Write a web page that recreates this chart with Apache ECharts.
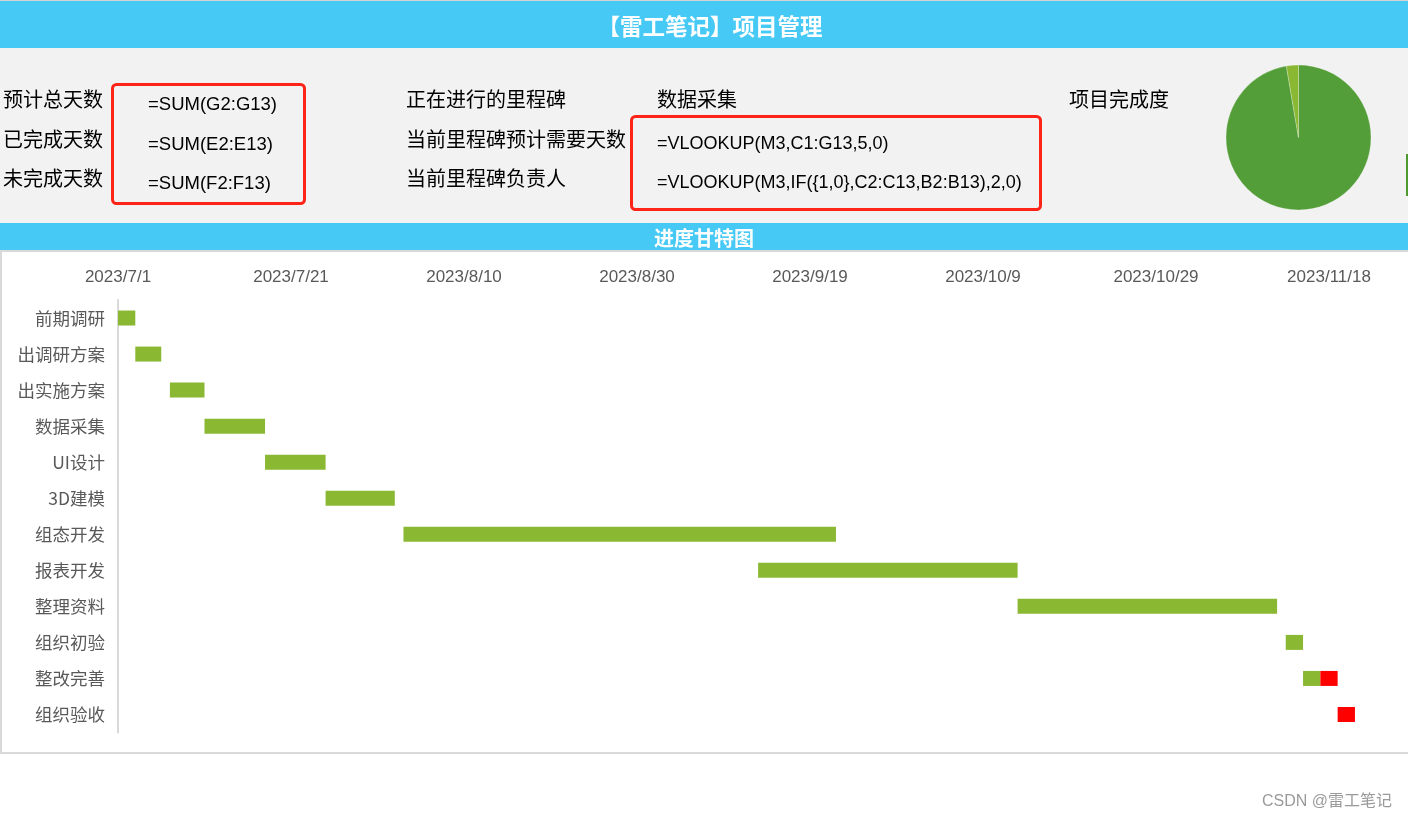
<!DOCTYPE html>
<html>
<head>
<meta charset="utf-8">
<script src="https://cdn.jsdelivr.net/npm/echarts@6/dist/echarts.min.js"></script>
<style>
html,body{margin:0;padding:0;background:#fff;}
#c{width:1408px;height:820px;}
</style>
</head>
<body>
<div id="c"></div>
<script>
// ---- data ----
const tasks = ['前期调研','出调研方案','出实施方案','数据采集','UI设计','3D建模','组态开发','报表开发','整理资料','组织初验','整改完善','组织验收'];
const startDates = ['2023/7/1','2023/7/3','2023/7/7','2023/7/11','2023/7/18','2023/7/25','2023/8/3','2023/9/13','2023/10/13','2023/11/13','2023/11/15','2023/11/19'];
const doneDays = [2,3,4,7,7,8,50,30,30,2,2,0];
const remainDays = [0,0,0,0,0,0,0,0,0,0,2,2];
const axisStart = '2023/7/1';
const axisEndDay = 147;
const tickStep = 20;
const tickLabels = ['2023/7/1','2023/7/21','2023/8/10','2023/8/30','2023/9/19','2023/10/9','2023/10/29','2023/11/18'];

const titleText = '【雷工笔记】项目管理';
const ganttTitle = '进度甘特图';
const summaryLabels = ['预计总天数','已完成天数','未完成天数'];
const summaryFormulas = ['=SUM(G2:G13)','=SUM(E2:E13)','=SUM(F2:F13)'];
const milestoneLabels = ['正在进行的里程碑','当前里程碑预计需要天数','当前里程碑负责人'];
const milestoneValues = ['数据采集','=VLOOKUP(M3,C1:G13,5,0)','=VLOOKUP(M3,IF({1,0},C2:C13,B2:B13),2,0)'];
const progressLabel = '项目完成度';
const watermark = 'CSDN @雷工笔记';

// ---- helpers ----
function parseD(s){const p=s.split('/').map(Number);return Date.UTC(p[0],p[1]-1,p[2]);}
const DAY = 86400000;
const base = parseD(axisStart);
const offsets = startDates.map(s => Math.round((parseD(s)-base)/DAY));
const doneSum = doneDays.reduce((a,b)=>a+b,0);
const remainSum = remainDays.reduce((a,b)=>a+b,0);

const CJK = '"Noto Sans CJK SC"';
const LAT = '"Liberation Sans"';

const graphics = [
  {type:'rect', z:-10, shape:{x:0,y:0,width:1408,height:1}, style:{fill:'#d4d4d4'}},
  {type:'rect', z:-10, shape:{x:0,y:1,width:1408,height:47}, style:{fill:'#46C9F5'}},
  {type:'rect', z:-10, shape:{x:0,y:48,width:1408,height:175}, style:{fill:'#F2F2F2'}},
  {type:'rect', z:-10, shape:{x:0,y:223,width:1408,height:27}, style:{fill:'#46C9F5'}},
  {type:'rect', z:-9, shape:{x:1,y:251,width:1430,height:502}, style:{fill:'#fff',stroke:'#d9d9d9',lineWidth:2}},
  {type:'rect', z:-8, shape:{x:1406,y:154,width:3,height:42}, style:{fill:'#4E9A2E'}},
  {type:'text', x:710, y:26, style:{text:titleText, font:'bold 22.5px '+CJK, fill:'#fff', align:'center', verticalAlign:'middle'}},
  {type:'text', x:704, y:238, style:{text:ganttTitle, font:'bold 20px '+CJK, fill:'#fff', align:'center', verticalAlign:'middle'}},
  {type:'rect', z:5, shape:{x:112.5,y:84.5,width:192,height:119,r:4}, style:{fill:'none',stroke:'#FF2418',lineWidth:3}},
  {type:'rect', z:5, shape:{x:631.5,y:116.5,width:409,height:93,r:4}, style:{fill:'none',stroke:'#FF2418',lineWidth:3}},
  {type:'text', x:1069, y:99, style:{text:progressLabel, font:'20px '+CJK, fill:'#000', align:'left', verticalAlign:'middle'}},
  {type:'text', x:1392, y:802, style:{text:watermark, font:'16px '+LAT+','+CJK, fill:'#9a9a9a', align:'right', verticalAlign:'middle'}}
];
const rowsY = [99,139,178];
const fRowsY = [105,145,184];
summaryLabels.forEach((t,i)=>graphics.push({type:'text', x:3, y:rowsY[i], style:{text:t, font:'20px '+CJK, fill:'#000', align:'left', verticalAlign:'middle'}}));
summaryFormulas.forEach((t,i)=>graphics.push({type:'text', x:148, y:fRowsY[i], style:{text:t, font:'18.5px '+LAT, fill:'#000', align:'left', verticalAlign:'middle'}}));
milestoneLabels.forEach((t,i)=>graphics.push({type:'text', x:406, y:rowsY[i], style:{text:t, font:'20px '+CJK, fill:'#000', align:'left', verticalAlign:'middle'}}));
milestoneValues.forEach((t,i)=>graphics.push({type:'text', x:657, y:i===0?99:fRowsY[i]-1, style:{text:t, font:(i===0?'20px '+CJK:'18px '+LAT), fill:'#000', align:'left', verticalAlign:'middle'}}));

const chart = echarts.init(document.getElementById('c'), null, {renderer:'canvas'});
chart.setOption({
  animation:false,
  backgroundColor:'transparent',
  graphic: graphics,
  grid:{left:118, top:300, right:1408-118-axisEndDay*8.65, height:432.5, containLabel:false},
  xAxis:{
    type:'value', position:'top', min:0, max:axisEndDay, interval:tickStep,
    axisLine:{show:false}, axisTick:{show:false}, splitLine:{show:false},
    axisLabel:{show:true, showMaxLabel:false, margin:14, color:'#595959', fontSize:17, fontFamily:'Liberation Sans',
      formatter:v=>{const k=Math.round(v/tickStep);return (v%tickStep===0 && tickLabels[k])?tickLabels[k]:'';}}
  },
  yAxis:{
    type:'category', inverse:true, data:tasks,
    axisLine:{show:true, lineStyle:{color:'#d9d9d9', width:2}}, axisTick:{show:false},
    axisLabel:{color:'#595959', fontSize:17.5, fontFamily:'Noto Sans CJK SC', margin:13}
  },
  series:[
    {type:'bar', stack:'g', data:offsets, barWidth:15, itemStyle:{color:'rgba(0,0,0,0)'}, silent:true},
    {type:'bar', stack:'g', data:doneDays, barWidth:15, itemStyle:{color:'#8AB833'}},
    {type:'bar', stack:'g', data:remainDays, barWidth:15, itemStyle:{color:'#FF0000'}},
    {type:'pie', center:[1298.5,137.5], radius:72.5, startAngle:90, clockwise:true, silent:true,
      label:{show:false}, labelLine:{show:false},
      itemStyle:{borderColor:'rgba(255,255,255,0.5)', borderWidth:0.5},
      data:[{value:doneSum, itemStyle:{color:'#549E39'}},{value:remainSum, itemStyle:{color:'#8AB833'}}]}
  ]
});
</script>
</body>
</html>
